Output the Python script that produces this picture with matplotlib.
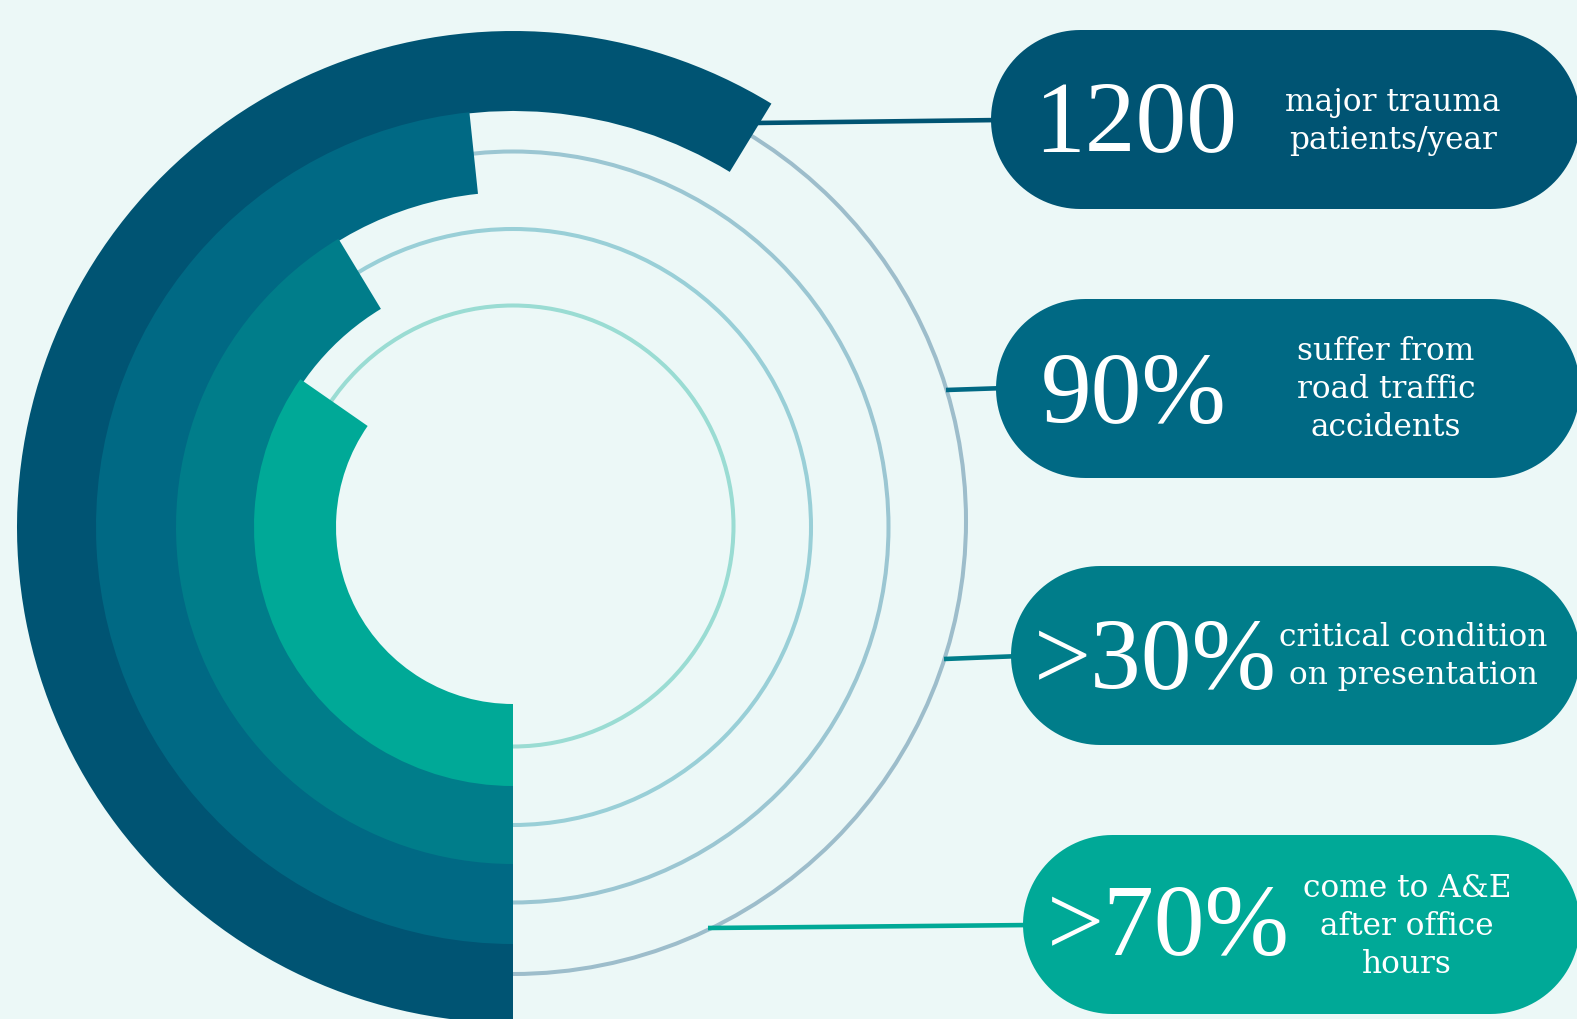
import numpy as np
import matplotlib
matplotlib.use("Agg")
import matplotlib.pyplot as plt
from matplotlib.patches import Wedge, Circle, Polygon

# ---------------- data ----------------
stat_values = ["1200", "90%", ">30%", ">70%"]
stat_labels = ["major trauma\npatients/year",
               "suffer from\nroad traffic\naccidents",
               "critical condition\non presentation",
               "come to A&E\nafter office\nhours"]
arc_sweep_deg = [211.4, 174.0, 148.8, 124.8]   # arc length of each ring (degrees, clockwise from bottom)

# ---------------- style ----------------
W, H = 1577, 1019
BG = "#ecf8f7"
ring_colors = ["#005473", "#006984", "#007d8a", "#00a997"]
track_colors = ["#9dbdcb", "#9bc6d2", "#99cfd7", "#9adcd3"]
cx, cy = 513, 527
ring_outer = [496, 415, 335, 257]
ring_width = 80
track_r = [453, 375.5, 298, 220.5]
track_cy = [521, 527, 527, 526]

pill_x0 = [991, 996, 1011, 1023]
pill_y0 = [30, 299, 566, 835]
pill_h = 179
pill_x1 = 1580

conn_x0 = [755, 946, 944, 708]
conn_y0 = [123, 390, 659, 928]
conn_y1 = [120, 388, 656, 925]

num_x = [1136, 1134, 1155, 1168]
num_dy = [32, 34, 33, 31]
lab_x = [1393, 1386, 1413, 1407]
lab_dy = [2, 1, 1, 2]

fig = plt.figure(figsize=(W / 100, H / 100), dpi=100)
fig.patch.set_facecolor(BG)
ax = fig.add_axes([0, 0, 1, 1])
ax.set_xlim(0, W)
ax.set_ylim(H, 0)
ax.set_aspect("equal")
ax.axis("off")
ax.set_facecolor(BG)


def stadium(x0, y0, x1, h, n=60):
    r = h / 2
    t = np.linspace(np.pi / 2, 3 * np.pi / 2, n)
    left = np.column_stack([x0 + r + r * np.cos(t), y0 + r - r * np.sin(t)])
    t2 = np.linspace(-np.pi / 2, np.pi / 2, n)
    right = np.column_stack([x1 - r + r * np.cos(t2), y0 + r - r * np.sin(t2)])
    return np.vstack([left, right])


# track circles
for r, c, ty in zip(track_r, track_colors, track_cy):
    ax.add_patch(Circle((cx, ty), r, fill=False, ec=c, lw=2.9, zorder=1))

# connector lines
for i in range(4):
    ax.plot([conn_x0[i], pill_x0[i] + 10], [conn_y0[i], conn_y1[i]],
            color=ring_colors[i], lw=3.3, solid_capstyle="butt", zorder=2)

# rings (start at bottom, go clockwise through the left side)
for i in range(4):
    extra = 0 if i == 0 else 2  # slight overlap to avoid antialias seams
    ax.add_patch(Wedge((cx, cy), ring_outer[i] + extra, 90, 90 + arc_sweep_deg[i],
                       width=ring_width + extra, fc=ring_colors[i], ec="none", zorder=3 + i * 0.1))

# pills with text
for i in range(4):
    ax.add_patch(Polygon(stadium(pill_x0[i], pill_y0[i], pill_x1, pill_h), closed=True,
                         fc=ring_colors[i], ec="none", zorder=4))
    yc = pill_y0[i] + pill_h / 2
    ax.text(num_x[i], yc + num_dy[i], stat_values[i], color="white", fontsize=73,
            family="Liberation Serif", ha="center", va="baseline", zorder=5)
    ax.text(lab_x[i], yc + lab_dy[i], stat_labels[i], color="white", fontsize=22.5,
            family="DejaVu Serif", ha="center", va="center", multialignment="center",
            linespacing=1.3, zorder=5)

fig.savefig("out.png", dpi=100, facecolor=BG)
